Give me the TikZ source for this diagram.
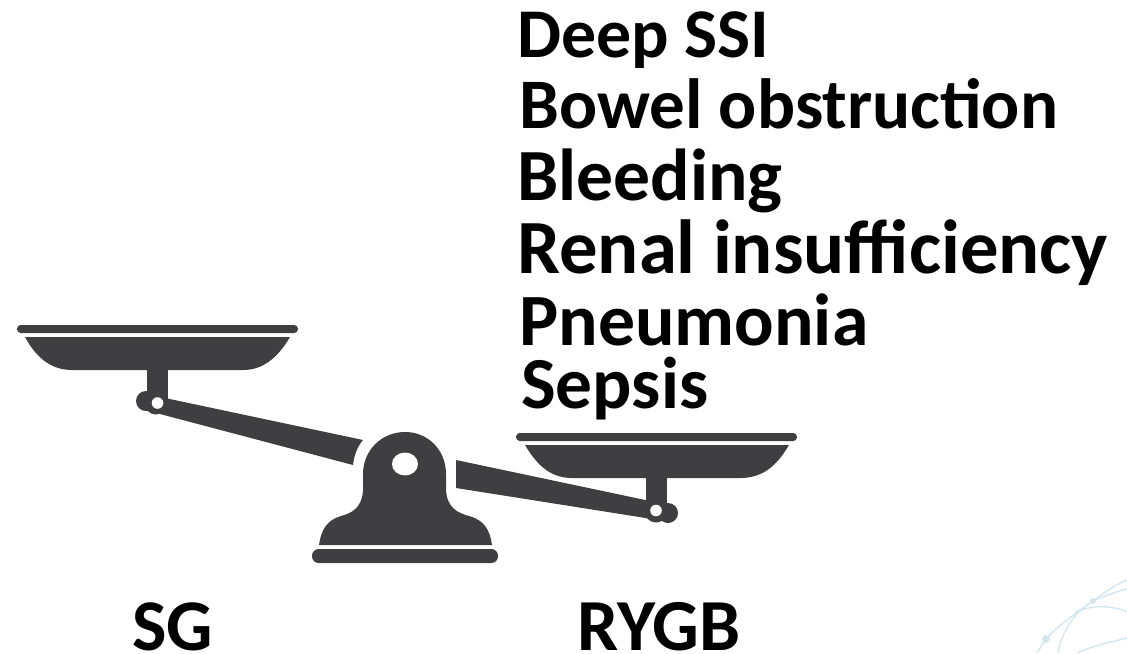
\documentclass[tikz,border=0pt]{standalone}
\usepackage{fontspec}
\setmainfont{Carlito}
\definecolor{scalecol}{HTML}{3F3F41}
\definecolor{wisp}{HTML}{D3E6F0}
\tikzset{
  lab/.style={anchor=base west,inner sep=0pt,font=\fontsize{#1}{#1}\selectfont\bfseries,text=black},
  lab/.default=55,
  part/.style={fill=scalecol,draw=none},
  hole/.style={fill=white,draw=none},
  wispline/.style={draw=wisp,line width=1pt}
}
\begin{document}
\begin{tikzpicture}[x=0.75pt,y=-0.75pt]
\useasboundingbox (0,0) rectangle (1127,653);
% left pan
\fill[part,rounded corners=2.8pt] (17,325) rectangle (298,333);
\fill[part] (25,337) -- (290,337) .. controls (277,359) and (262,370) .. (243,370) -- (72,370) .. controls (52,370) and (37,359) .. (25,337) -- cycle;
\fill[part] (147,368) rectangle (168,402);
\fill[part] (146,401) circle[radius=10];
\fill[part] (156,403) circle[radius=11.5];
\fill[part] (165,398) -- (363,440) .. controls (357,447) and (354,456) .. (353,465) -- (160,414) -- cycle;
\fill[hole] (157.5,403) circle[radius=5.8];
% right pan
\fill[part,rounded corners=2.8pt] (516,433) rectangle (797,441);
\fill[part] (525,445) -- (789,445) .. controls (776,467) and (762,478) .. (740,478) -- (572,478) .. controls (552,478) and (538,467) .. (525,445) -- cycle;
\fill[part] (646,476) rectangle (667,512);
\fill[part] (668,513) circle[radius=10];
\fill[part] (656,511) circle[radius=11.5];
% right beam
\fill[part] (456,460) -- (650,501) -- (652,519) -- (456,488) -- cycle;
\fill[hole] (656,510.5) circle[radius=5.8];
% fulcrum
\fill[part] (363,474) .. controls (363,450) and (382,432) .. (405,432) .. controls (428,432) and (446,450) .. (446,474)
  -- (446,490) .. controls (447,508) and (458,513) .. (469,516) .. controls (484,520) and (490,530) .. (492,545)
  -- (319,545) .. controls (321,530) and (327,520) .. (341,516) .. controls (352,513) and (362,508) .. (363,490) -- cycle;
\fill[hole] (405,464) ellipse[x radius=13,y radius=11.5];
\fill[part,rounded corners=5pt] (312,549) -- (498,549) -- (498,563) -- (312,563) -- cycle;
% faint wisps
\coordinate (w1) at (1046,639);
\coordinate (w2) at (1093,601);
\draw[wispline] (1037,653) -- (w1) .. controls (1055,628) and (1075,614) .. (w2) .. controls (1105,592) and (1115,585) .. (1127,580);
\draw[wispline] (1058,653) .. controls (1062,630) and (1075,612) .. (w2) .. controls (1105,596) and (1115,592) .. (1127,589);
\draw[wispline] (1075,612) .. controls (1092,605) and (1112,605) .. (1127,612);
\draw[wispline] (1077,653) .. controls (1095,645) and (1112,642) .. (1127,638);
\fill[wisp] (w1) circle[radius=4];
\fill[wisp] (w2) circle[radius=3];
% labels
\node[lab=52.4] (l1) at (517,57) {Deep SSI};
\node[lab=53.3] (l2) at (519,128.5) {Bowel obstruction};
\node[lab=55.2] (l3) at (517,200.5) {Bleeding};
\node[lab=57.5] (l4) at (517,273) {Renal insufficiency};
\node[lab=55.3] (l5) at (519,345) {Pneumonia};
\node[lab=55] (l6) at (521,408) {Sepsis};
\node[lab=54.6] (sg) at (132,650) {SG};
\node[lab=55] (ry) at (577,650) {RYGB};
\end{tikzpicture}
\end{document}
